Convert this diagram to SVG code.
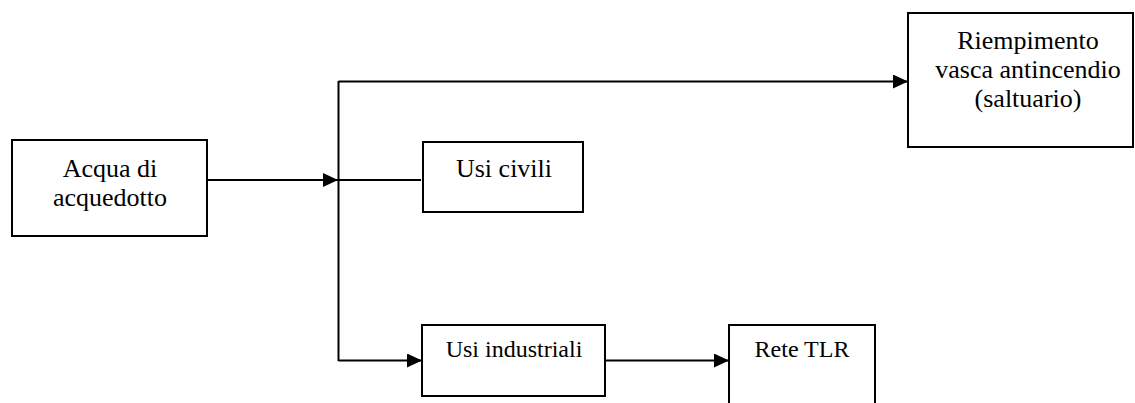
<svg xmlns="http://www.w3.org/2000/svg" width="1135" height="403" viewBox="0 0 1135 403">
<style>
.box{fill:#fff;stroke:#000;stroke-width:2}
.ln{fill:none;stroke:#000;stroke-width:2}
.t{font-family:'Liberation Serif','Times New Roman',Times,'DejaVu Serif',serif;fill:#000;text-anchor:middle}
.a{font-size:26px}
.b{font-size:24px}
</style>
<defs>
<marker id="ah" viewBox="0 0 15 14" refX="15" refY="7" markerWidth="15" markerHeight="14" markerUnits="userSpaceOnUse" orient="auto">
<path d="M0,0 L15,7 L0,14 Z" fill="#000"/>
</marker>
</defs>
<rect width="1135" height="403" fill="#fff"/>
<g id="connectors">
<path class="ln" d="M207,180 H338" marker-end="url(#ah)"/>
<path class="ln" d="M338.5,81 V361"/>
<path class="ln" d="M338.5,81.5 H908" marker-end="url(#ah)"/>
<path class="ln" d="M338.5,180 H421"/>
<path class="ln" d="M338.5,360.5 H422" marker-end="url(#ah)"/>
<path class="ln" d="M605,360.5 H729" marker-end="url(#ah)"/>
</g>
<g id="acqua">
<rect class="box" x="12" y="140" width="195" height="96"/>
<text class="t a" x="110" y="177">Acqua di</text>
<text class="t a" x="110" y="206">acquedotto</text>
</g>
<g id="riempimento">
<rect class="box" x="908" y="13" width="225" height="134"/>
<text class="t a" x="1028" y="49">Riempimento</text>
<text class="t a" x="1028" y="78">vasca antincendio</text>
<text class="t a" x="1028" y="107">(saltuario)</text>
</g>
<g id="usi-civili">
<rect class="box" x="423" y="142" width="160" height="70"/>
<text class="t a" x="504" y="177">Usi civili</text>
</g>
<g id="usi-industriali">
<rect class="box" x="422" y="325" width="183" height="71"/>
<text class="t b" x="514" y="357">Usi industriali</text>
</g>
<g id="rete-tlr">
<rect class="box" x="729" y="325" width="146" height="90"/>
<text class="t b" x="802" y="357">Rete TLR</text>
</g>
</svg>
